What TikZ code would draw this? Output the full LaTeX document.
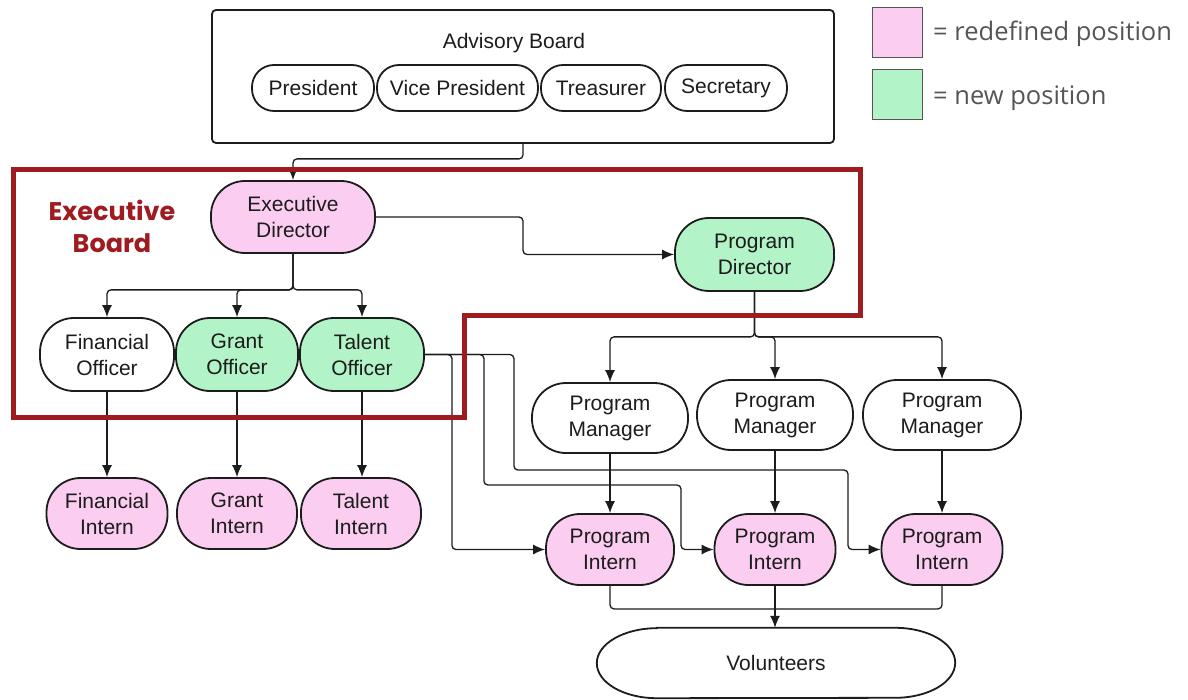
\documentclass[tikz,border=0pt]{standalone}
\usepackage{fontspec}
\setmainfont{Liberation Sans}
\newfontfamily\legendfont{Open Sans}
\newfontfamily\boardfont{Poppins}
\usetikzlibrary{arrows.meta,shapes.geometric,calc}
\definecolor{pinkfill}{RGB}{251,205,241}
\definecolor{greenfill}{RGB}{178,243,199}
\definecolor{boardred}{RGB}{158,27,32}
\definecolor{ink}{RGB}{28,28,28}
\definecolor{legendgray}{RGB}{85,85,85}
\begin{document}
\begin{tikzpicture}[x=1pt,y=-1pt,
  role/.style={draw=ink, line width=1.8pt, align=center, inner sep=0pt,
    font=\fontsize{21}{26}\selectfont, text=ink},
  tall/.style={role, minimum height=72pt, rounded corners=34pt},
  oval/.style={role, minimum height=46pt, rounded corners=22pt},
  redef/.style={tall, fill=pinkfill},
  fresh/.style={tall, fill=greenfill},
  plain/.style={tall, fill=white},
  conn/.style={draw=ink, line width=1.3pt, rounded corners=4pt},
  arr/.style={conn, -{Latex[length=12pt,width=10pt]}},
  swatch/.style={draw=legendgray, line width=1pt, minimum width=50pt, minimum height=50pt, inner sep=0pt},
  legendtext/.style={font=\legendfont\fontsize{25.5}{30}\selectfont, text=legendgray, anchor=west, inner sep=0pt}
]
\useasboundingbox (0,0) rectangle (1188,700);

% advisory board
\node[draw=ink, line width=1.8pt, rounded corners=4pt, minimum width=622pt, minimum height=133pt] (ab) at (523,76.5) {};
\node[font=\fontsize{21}{26}\selectfont, text=ink] (abt) at (514,43) {Advisory Board};
\node[oval, minimum width=122pt] (pres) at (313,88) {President};
\node[oval, minimum width=161pt] (vp) at (457.5,88) {Vice President};
\node[oval, minimum width=120pt] (tre) at (601,88) {Treasurer};
\node[oval, minimum width=122pt] (sec) at (726,88) {Secretary};

% executive level
\node[redef, minimum width=164pt] (ed) at (293,217) {Executive\\Director};
\node[fresh, minimum width=159pt, minimum height=73pt] (pd) at (754.5,254.5) {Program\\Director};

% officers
\node[plain, minimum width=134pt, minimum height=73pt] (fo) at (107,354.5) {Financial\\Officer};
\node[fresh, minimum width=122pt, minimum height=73pt] (go) at (237,354.5) {Grant\\Officer};
\node[fresh, minimum width=124pt, minimum height=73pt] (to) at (362,354.5) {Talent\\Officer};

% interns under officers
\node[redef, minimum width=121pt, minimum height=71pt] (fi) at (107,513.5) {Financial\\Intern};
\node[redef, minimum width=120pt, minimum height=71pt] (gi) at (237,513.5) {Grant\\Intern};
\node[redef, minimum width=120pt, minimum height=71pt] (ti) at (361,513.5) {Talent\\Intern};

% program managers
\node[plain, minimum width=156pt, minimum height=70pt] (pm1) at (610,418) {Program\\Manager};
\node[plain, minimum width=156pt, minimum height=70pt] (pm2) at (775,415) {Program\\Manager};
\node[plain, minimum width=158pt, minimum height=70pt] (pm3) at (942,415) {Program\\Manager};

% program interns
\node[redef, minimum width=128pt, minimum height=71pt] (pi1) at (610,549.5) {Program\\Intern};
\node[redef, minimum width=121pt, minimum height=71pt] (pi2) at (775,549.5) {Program\\Intern};
\node[redef, minimum width=121pt, minimum height=71pt] (pi3) at (942,549.5) {Program\\Intern};

% volunteers: flat top and bottom with half-elliptic caps
\node[minimum width=358pt, minimum height=70pt, inner sep=0pt] (vol) at (776,663) {};
\draw[ink, line width=1.8pt, fill=white]
  ($(vol.north west)+(60,0)$) -- ($(vol.north east)+(-60,0)$)
  arc[start angle=-90, end angle=90, x radius=60, y radius=35]
  -- ($(vol.south west)+(60,0)$)
  arc[start angle=90, end angle=270, x radius=60, y radius=35] -- cycle;
\node[font=\fontsize{21}{26}\selectfont, text=ink] (volt) at (vol.center) {Volunteers};

% connectors
\draw[arr] (ab.south) -- ++(0,15) -| (ed.north);
\draw[arr] (ed.east) -- (ed.east -| ab.south) |- (pd.west);
\draw[arr] (ed.south) -- ++(0,36) -| (fo.north);
\draw[arr] (ed.south) -- ++(0,36) -| (go.north);
\draw[arr] (ed.south) -- ++(0,36) -| (to.north);
\draw[arr] (fo.south) -- (fo.south |- fi.north);
\draw[arr] (go.south) -- (go.south |- gi.north);
\draw[arr] (to.south) -- (to.south |- ti.north);

\draw[arr] (pd.south) -- ++(0,45) -| (pm1.north);
\draw[arr] (pd.south) -- ++(0,45) -| (pm2.north);
\draw[arr] (pd.south) -- ++(0,45) -| (pm3.north);
\draw[arr] (pm1.south) -- (pi1.north);
\draw[arr] (pm2.south) -- (pi2.north);
\draw[arr] (pm3.south) -- (pi3.north);

\coordinate (j2) at (681,485);
\coordinate (j3) at (848,470);
\draw[arr] (to.east) -- ++(27,0) |- (pi1.west);
\draw[arr] (to.east) -- ++(59,0) |- (j2) |- (pi2.west);
\draw[arr] (to.east) -- ++(89,0) |- (j3) |- (pi3.west);

\draw[conn] (pi1.south) -- ++(0,23) -| (pi3.south);
\draw[arr] (pi2.south) -- (pi2.south |- vol.north);

% executive board frame
\draw[boardred, line width=5pt] (13,170) -- (860,170) -- (860,316) -- (464,316) -- (464,417) -- (13,417) -- cycle;
\node[font=\boardfont\bfseries\fontsize{25.5}{32}\selectfont, text=boardred, align=center] (eb) at (112,226) {Executive\\Board};

% legend
\node[swatch, fill=pinkfill] (lg1) at (897,33) {};
\node[swatch, fill=greenfill] (lg2) at (897,95) {};
\node[legendtext] (lt1) at (933,34) {= redefined position};
\node[legendtext] (lt2) at (933,98) {= new position};
\end{tikzpicture}
\end{document}
